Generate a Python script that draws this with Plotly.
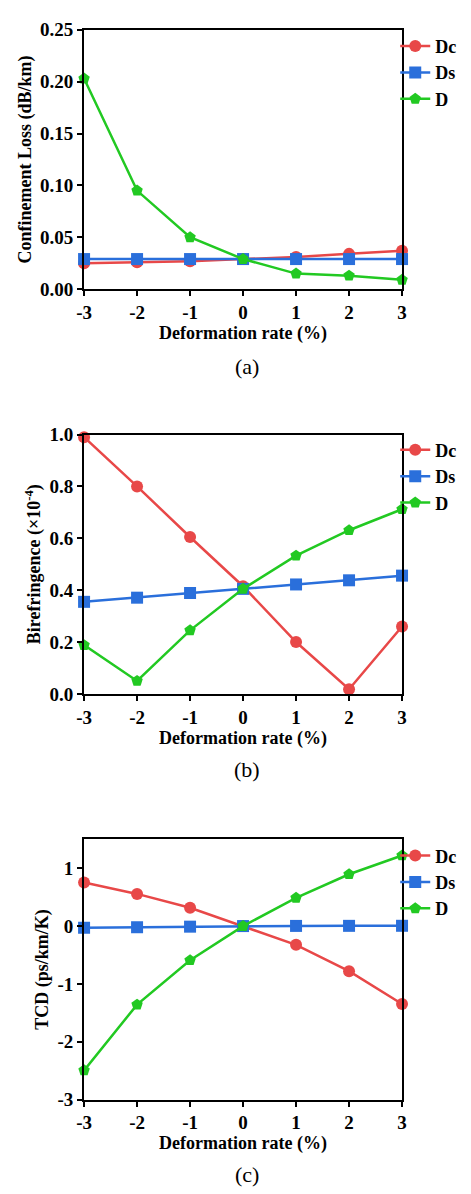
import plotly.graph_objects as go

x_vals = [-3, -2, -1, 0, 1, 2, 3]
x_ticks = [-3, -2, -1, 0, 1, 2, 3]
x_ticktext = ["-3", "-2", "-1", "0", "1", "2", "3"]

# (a) Confinement loss (dB/km)
loss_dc = [0.025, 0.026, 0.027, 0.029, 0.031, 0.034, 0.037]
loss_ds = [0.029, 0.029, 0.029, 0.029, 0.029, 0.029, 0.029]
loss_d = [0.203, 0.095, 0.050, 0.029, 0.015, 0.013, 0.009]
loss_ticks = [0.0, 0.05, 0.10, 0.15, 0.20, 0.25]
loss_ticktext = ["0.00", "0.05", "0.10", "0.15", "0.20", "0.25"]

# (b) Birefringence (x10^-4)
bir_dc = [0.99, 0.80, 0.605, 0.415, 0.20, 0.018, 0.26]
bir_ds = [0.355, 0.371, 0.389, 0.405, 0.422, 0.438, 0.456]
bir_d = [0.188, 0.050, 0.245, 0.405, 0.533, 0.631, 0.712]
bir_ticks = [0.0, 0.2, 0.4, 0.6, 0.8, 1.0]
bir_ticktext = ["0.0", "0.2", "0.4", "0.6", "0.8", "1.0"]

# (c) TCD (ps/km/K)
tcd_dc = [0.755, 0.556, 0.317, 0.0, -0.324, -0.779, -1.346]
tcd_ds = [-0.029, -0.020, -0.010, 0.0, 0.003, 0.004, 0.005]
tcd_d = [-2.494, -1.358, -0.591, 0.0, 0.488, 0.896, 1.22]
tcd_ticks = [-3, -2, -1, 0, 1]
tcd_ticktext = ["-3", "-2", "-1", "0", "1"]

names = ["Dc", "Ds", "D"]
colors = ["#E84848", "#2A6FDB", "#22C922"]
symbols = ["circle", "square", "pentagon"]

W, H = 471, 1194
FONT = "Liberation Serif, Times New Roman, serif"

panels = [
    dict(series=[loss_dc, loss_ds, loss_d], ytitle="Confinement Loss (dB/km)",
         yrange=[0, 0.25], tv=loss_ticks, tt=loss_ticktext, top=12, bottom=276,
         legend_y=10, caption="(a)", cap_y=355),
    dict(series=[bir_dc, bir_ds, bir_d], ytitle="Birefringence (×10<sup>-4</sup>)",
         yrange=[0, 1.0], tv=bir_ticks, tt=bir_ticktext, top=424, bottom=688,
         legend_y=421, caption="(b)", cap_y=765),
    dict(series=[tcd_dc, tcd_ds, tcd_d], ytitle="TCD (ps/km/K)",
         yrange=[-3, 1.5], tv=tcd_ticks, tt=tcd_ticktext, top=836, bottom=1101,
         legend_y=834, caption="(c)", cap_y=1177),
]

fig = go.Figure()
x0, x1 = 70 / W, 397 / W

for i, p in enumerate(panels):
    n = i + 1
    xa = "x" if n == 1 else f"x{n}"
    ya = "y" if n == 1 else f"y{n}"
    leg = "legend" if n == 1 else f"legend{n}"
    for s, name, c, sym in zip(p["series"], names, colors, symbols):
        fig.add_trace(go.Scatter(
            x=x_vals, y=s, name=name, mode="lines+markers",
            line=dict(color=c, width=2.5),
            marker=dict(symbol=sym, size=12, color=c),
            xaxis=xa, yaxis=ya, legend=leg, cliponaxis=False,
        ))
    dom = [(H - p["bottom"]) / H, (H - p["top"]) / H]
    axis_common = dict(
        showline=True, linecolor="black", linewidth=2, mirror=True,
        ticks="outside", ticklen=5, tickwidth=2, tickcolor="black",
        showgrid=False, zeroline=False,
        tickfont=dict(family=FONT, size=19, color="black", weight="bold"),
    )
    fig.update_layout(**{
        ("xaxis" if n == 1 else f"xaxis{n}"): dict(
            domain=[x0, x1], range=[-3, 3], tickvals=x_ticks, ticktext=x_ticktext,
            anchor=ya,
            title=dict(text="Deformation rate (%)", standoff=3,
                       font=dict(family=FONT, size=18, color="black", weight="bold")),
            **axis_common),
        ("yaxis" if n == 1 else f"yaxis{n}"): dict(
            domain=dom, range=p["yrange"], tickvals=p["tv"], ticktext=p["tt"],
            anchor=xa,
            title=dict(text=p["ytitle"], standoff=4,
                       font=dict(family=FONT, size=18, color="black", weight="bold")),
            **axis_common),
        leg: dict(
            x=390 / W, xanchor="left", y=(H - p["legend_y"]) / H, yanchor="top",
            bgcolor="rgba(0,0,0,0)",
            font=dict(family=FONT, size=18, color="black", weight="bold"),
            itemwidth=30, tracegroupgap=0,
        ),
    })
    fig.add_annotation(
        text=p["caption"], x=238 / W, y=(H - p["cap_y"]) / H,
        xref="paper", yref="paper", showarrow=False,
        xanchor="center", yanchor="middle",
        font=dict(family=FONT, size=22, color="black"),
    )

fig.update_layout(
    width=W, height=H, margin=dict(l=0, r=0, t=0, b=0),
    paper_bgcolor="white", plot_bgcolor="white",
    showlegend=True,
)

fig.write_html("out.html")
